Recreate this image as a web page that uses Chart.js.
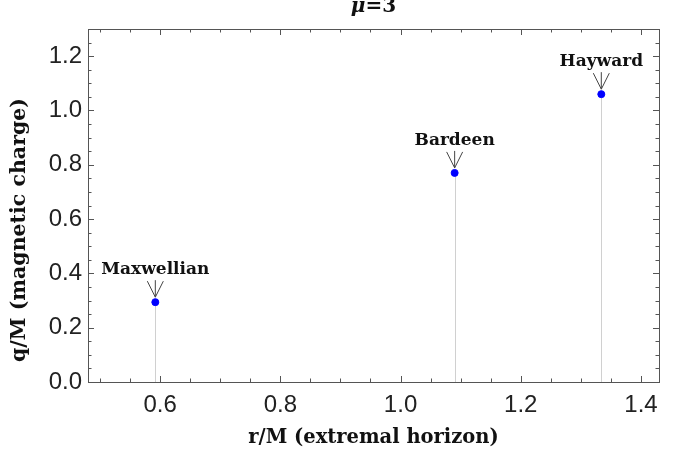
<!DOCTYPE html>
<html>
<head>
<meta charset="utf-8">
<script src="https://cdn.jsdelivr.net/npm/chart.js@4"></script>
<style>
  html, body { margin: 0; padding: 0; background: #fff; }
  #wrap { width: 686px; height: 466px; }
</style>
</head>
<body>
<div id="wrap"><canvas id="chart" width="686" height="466"></canvas></div>
<script>
// data
const models = ["Maxwellian", "Bardeen", "Hayward"];
const horizonR = [0.592, 1.090, 1.334];
const chargeQ = [0.294, 0.770, 1.060];
const xTicks = [0.6, 0.8, 1.0, 1.2, 1.4];
const yTicks = [0.0, 0.2, 0.4, 0.6, 0.8, 1.0, 1.2];
const plotTitle = "=3";
const xTitle = "r/M (extremal horizon)";
const yTitle = "q/M (magnetic charge)";

const serif = "'DejaVu Serif', 'Liberation Serif', serif";
const sans = "'Liberation Sans', Arial, sans-serif";

// frame, inward ticks, drop lines, arrows and labels
const decorations = {
    id: "decorations",
    beforeDatasetsDraw(chart) {
        const ctx = chart.ctx;
        const xs = chart.scales.x, ys = chart.scales.y;
        const bottom = ys.getPixelForValue(0);
        ctx.save();
        ctx.strokeStyle = "#d0d0d0";
        ctx.lineWidth = 1;
        horizonR.forEach((r, i) => {
            const px = Math.round(xs.getPixelForValue(r)) + 0.5;
            ctx.beginPath();
            ctx.moveTo(px, ys.getPixelForValue(chargeQ[i]));
            ctx.lineTo(px, bottom);
            ctx.stroke();
        });
        ctx.restore();
    },
    afterDatasetsDraw(chart) {
        const ctx = chart.ctx;
        const area = chart.chartArea;
        const xs = chart.scales.x, ys = chart.scales.y;
        ctx.save();

        // frame
        ctx.strokeStyle = "#555";
        ctx.lineWidth = 1;
        ctx.strokeRect(Math.round(area.left) + 0.5, Math.round(area.top) + 0.5,
            Math.round(area.right - area.left), Math.round(area.bottom - area.top));

        // inward ticks on all four sides
        ctx.beginPath();
        for (let v = 0.5; v <= 1.43; v += 0.05) {
            const px = Math.round(xs.getPixelForValue(v)) + 0.5;
            if (px < area.left || px > area.right) continue;
            const major = Math.abs(v * 5 - Math.round(v * 5)) < 1e-6;
            const len = major ? 6 : 3.5;
            ctx.moveTo(px, area.bottom); ctx.lineTo(px, area.bottom - len);
            ctx.moveTo(px, area.top); ctx.lineTo(px, area.top + len);
        }
        for (let v = 0; v <= 1.3; v += 0.05) {
            const py = Math.round(ys.getPixelForValue(v)) + 0.5;
            if (py < area.top || py > area.bottom) continue;
            const major = Math.abs(v * 5 - Math.round(v * 5)) < 1e-6;
            const len = major ? 6 : 3.5;
            ctx.moveTo(area.left, py); ctx.lineTo(area.left + len, py);
            ctx.moveTo(area.right, py); ctx.lineTo(area.right - len, py);
        }
        ctx.stroke();

        // labels with arrows
        models.forEach((name, i) => {
            const px = xs.getPixelForValue(horizonR[i]);
            const py = ys.getPixelForValue(chargeQ[i]);
            ctx.strokeStyle = "#444";
            ctx.lineWidth = 1;
            ctx.beginPath();
            ctx.moveTo(px, py - 22); ctx.lineTo(px, py - 5);
            ctx.moveTo(px - 8, py - 21); ctx.lineTo(px, py - 5);
            ctx.lineTo(px + 8, py - 21);
            ctx.stroke();
            ctx.fillStyle = "#111";
            ctx.font = "bold 17px " + serif;
            ctx.textAlign = "center";
            ctx.textBaseline = "alphabetic";
            ctx.fillText(name, px, py - 28);
        });

        // title
        const cx = (area.left + area.right) / 2;
        ctx.fillStyle = "#111";
        ctx.textBaseline = "alphabetic";
        ctx.font = "bold italic 20px " + serif;
        const muW = ctx.measureText("\u03bc").width;
        ctx.font = "bold 20px " + serif;
        const restW = ctx.measureText(plotTitle).width;
        const x0 = cx - (muW + restW) / 2;
        ctx.textAlign = "left";
        ctx.font = "bold italic 20px " + serif;
        ctx.fillText("\u03bc", x0, 12);
        ctx.font = "bold 20px " + serif;
        ctx.fillText(plotTitle, x0 + muW, 12);

        // axis titles
        ctx.textAlign = "center";
        ctx.textBaseline = "middle";
        ctx.font = "bold 19.5px " + serif;
        ctx.fillText(xTitle, cx, 438);
        ctx.font = "bold 20.5px " + serif;
        ctx.translate(20, 230);
        ctx.rotate(-Math.PI / 2);
        ctx.fillText(yTitle, 0, 0);
        ctx.restore();
    }
};

new Chart(document.getElementById("chart"), {
    type: "scatter",
    data: {
        labels: models,
        datasets: [{
            data: horizonR.map((r, i) => ({ x: r, y: chargeQ[i] })),
            backgroundColor: "#0000ff",
            borderColor: "#0000ff",
            pointRadius: 3.5,
            pointHoverRadius: 3.5,
        }],
    },
    options: {
        responsive: false,
        animation: false,
        layout: { padding: { top: 29, right: 27, left: 0, bottom: 0 } },
        plugins: { legend: { display: false }, title: { display: false }, tooltip: { enabled: false } },
        scales: {
            x: {
                type: "linear",
                min: 0.48,
                max: 1.43,
                afterBuildTicks: (s) => { s.ticks = xTicks.map(v => ({ value: v })); },
                afterFit: (s) => { s.height = 84; },
                grid: { display: false, drawTicks: false },
                border: { display: false },
                ticks: {
                    padding: 9,
                    color: "#222",
                    font: { family: sans, size: 24 },
                    callback: (v) => v.toFixed(1),
                    maxRotation: 0,
                },
            },
            y: {
                type: "linear",
                min: 0,
                max: 1.3,
                afterBuildTicks: (s) => { s.ticks = yTicks.map(v => ({ value: v })); },
                afterFit: (s) => { s.width = 88; },
                grid: { display: false, drawTicks: false },
                border: { display: false },
                ticks: {
                    padding: 6,
                    color: "#222",
                    font: { family: sans, size: 24 },
                    callback: (v) => v.toFixed(1),
                },
            },
        },
    },
    plugins: [decorations],
});
</script>
</body>
</html>
